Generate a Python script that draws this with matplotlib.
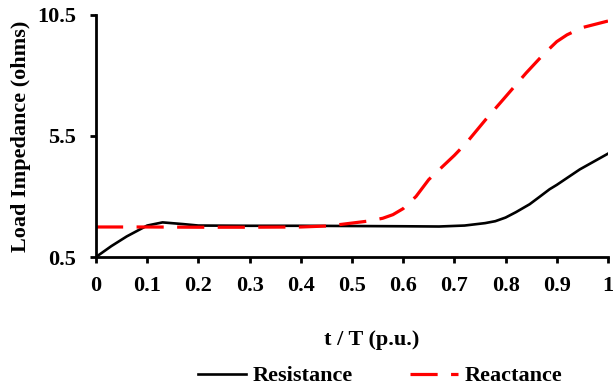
import numpy as np
import matplotlib.pyplot as plt

plt.rcParams['font.family'] = ['Liberation Serif', 'DejaVu Serif']
plt.rcParams['font.weight'] = 'bold'

FONTSIZE = 16

# data
t_res = [0, 0.03, 0.06, 0.1, 0.13, 0.17, 0.2, 0.3, 0.4, 0.5, 0.6, 0.67, 0.72,
         0.76, 0.78, 0.8, 0.82, 0.847, 0.866, 0.886, 0.9, 0.945, 1.0]
resistance = [0.5, 0.95, 1.35, 1.8, 1.93, 1.86, 1.8, 1.79, 1.79, 1.78, 1.77, 1.76, 1.8,
              1.9, 1.98, 2.13, 2.35, 2.68, 2.98, 3.3, 3.48, 4.12, 4.77]

t_rea = [0, 0.1, 0.2, 0.3, 0.4, 0.45, 0.48, 0.53, 0.56, 0.58, 0.6, 0.625, 0.65, 0.7,
         0.724, 0.76, 0.795, 0.84, 0.873, 0.9, 0.92, 0.95, 1.0]
reactance = [1.74, 1.74, 1.73, 1.73, 1.74, 1.78, 1.85, 1.98, 2.1, 2.25, 2.5, 3.0, 3.7, 4.7,
             5.23, 6.15, 7.0, 8.1, 8.85, 9.4, 9.68, 9.98, 10.25]

xticks = [0, 0.1, 0.2, 0.3, 0.4, 0.5, 0.6, 0.7, 0.8, 0.9, 1]
xticklabels = ['0', '0.1', '0.2', '0.3', '0.4', '0.5', '0.6', '0.7', '0.8', '0.9', '1']
yticks = [0.5, 5.5, 10.5]
yticklabels = ['0.5', '5.5', '10.5']

fig = plt.figure(figsize=(6.13, 3.91), dpi=100)
ax = fig.add_axes([0.1566, 0.3427, 0.8352, 0.619])

ax.plot(t_res, resistance, color='black', lw=1.9, label='Resistance')
ax.plot(t_rea, reactance, color='#ff0000', lw=2.3, dashes=(8.5, 4.2), label='Reactance')

ax.set_xlim(0, 1)
ax.set_ylim(0.5, 10.5)
ax.set_xticks(xticks)
ax.set_xticklabels(xticklabels)
ax.set_yticks(yticks)
ax.set_yticklabels(yticklabels)

ax.spines['right'].set_visible(False)
ax.spines['top'].set_visible(False)
ax.spines['left'].set_linewidth(2)
ax.spines['bottom'].set_linewidth(2)
ax.tick_params(width=2, length=4.5, labelsize=FONTSIZE)
ax.tick_params(axis='x', pad=9)
ax.tick_params(axis='y', pad=10)

ax.set_xlabel('t / T (p.u.)', fontsize=FONTSIZE, fontweight='bold')
ax.xaxis.set_label_coords(0.539, -0.3)
ax.set_ylabel('Load Impedance (ohms)', fontsize=FONTSIZE, fontweight='bold')
ax.yaxis.set_label_coords(-0.126, 0.5)

fig.legend(loc='center', bbox_to_anchor=(0.62, 0.038), ncol=2, frameon=False,
           fontsize=FONTSIZE, handlelength=2.16, handletextpad=0.3, columnspacing=2.6)

fig.savefig('out.png', dpi=100)
